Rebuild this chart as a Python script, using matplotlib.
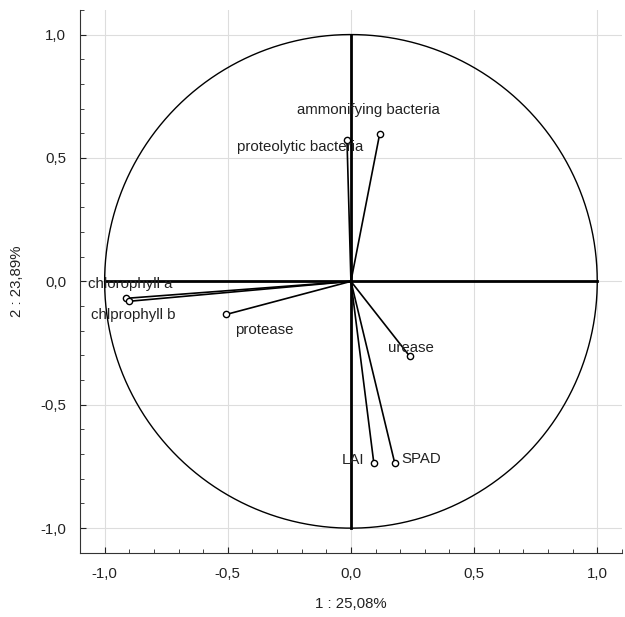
import numpy as np
import matplotlib.pyplot as plt
from matplotlib.ticker import MultipleLocator, FuncFormatter

plt.rcParams['font.family'] = ['Liberation Sans', 'DejaVu Sans']

# PCA loadings (factor 1, factor 2)
variables = ["ammonifying bacteria", "proteolytic bacteria", "chlorophyll a",
             "chlprophyll b", "protease", "urease", "LAI", "SPAD"]
f1 = [0.117, -0.016, -0.915, -0.903, -0.506, 0.239, 0.093, 0.178]
f2 = [0.599, 0.571, -0.069, -0.081, -0.134, -0.304, -0.737, -0.737]

# label placement: (dx, dy) in points, horizontal alignment
label_pos = {
    "ammonifying bacteria": (-8, 17, 'center'),
    "proteolytic bacteria": (12, -5, 'right'),
    "chlorophyll a": (-27, 10, 'left'),
    "chlprophyll b": (-27, -10, 'left'),
    "protease": (27, -11, 'center'),
    "urease": (1, 6, 'center'),
    "LAI": (-7, 2, 'right'),
    "SPAD": (5, 3, 'left'),
}


def comma_fmt(v, pos):
    return f"{v:.1f}".replace('.', ',')


def main():
    fig = plt.figure(figsize=(6.25, 6.17), dpi=100)
    ax = fig.add_axes([0.128, 0.104, 0.867, 0.880])

    # unit circle
    t = np.linspace(0, 2 * np.pi, 400)
    ax.plot(np.cos(t), np.sin(t), color='black', lw=1.0)

    # zero axes
    ax.plot([-1, 1], [0, 0], color='black', lw=2)
    ax.plot([0, 0], [-1, 1], color='black', lw=2)

    # vectors
    for name, x, y in zip(variables, f1, f2):
        ax.plot([0, x], [0, y], color='black', lw=1.2)
        ax.plot(x, y, 'o', mfc='white', mec='black', ms=4.5, mew=1)
        dx, dy, ha = label_pos[name]
        ax.annotate(name, (x, y), xytext=(dx, dy), textcoords='offset points',
                    ha=ha, va='center', fontsize=10.8, color='#222222')

    ax.set_xlim(-1.1, 1.1)
    ax.set_ylim(-1.1, 1.1)
    ax.xaxis.set_major_locator(MultipleLocator(0.5))
    ax.yaxis.set_major_locator(MultipleLocator(0.5))
    ax.xaxis.set_minor_locator(MultipleLocator(0.1))
    ax.yaxis.set_minor_locator(MultipleLocator(0.1))
    ax.xaxis.set_major_formatter(FuncFormatter(comma_fmt))
    ax.yaxis.set_major_formatter(FuncFormatter(comma_fmt))
    ax.tick_params(which='both', direction='in', labelsize=10.8, colors='#222222',
                   top=False, right=False)
    ax.tick_params(which='major', length=4, pad=10)
    ax.tick_params(which='minor', length=3)
    ax.grid(True, which='major', color='#dddddd', lw=0.8)
    ax.set_axisbelow(True)
    for side in ['top', 'right']:
        ax.spines[side].set_visible(False)
    for side in ['left', 'bottom']:
        ax.spines[side].set_color('#333333')

    ax.set_xlabel("1 : 25,08%", fontsize=10.8, color='#222222', labelpad=12)
    ax.set_ylabel("2 : 23,89%", fontsize=10.8, color='#222222', labelpad=12)

    fig.savefig("out.png", dpi=100)


if __name__ == "__main__":
    main()
